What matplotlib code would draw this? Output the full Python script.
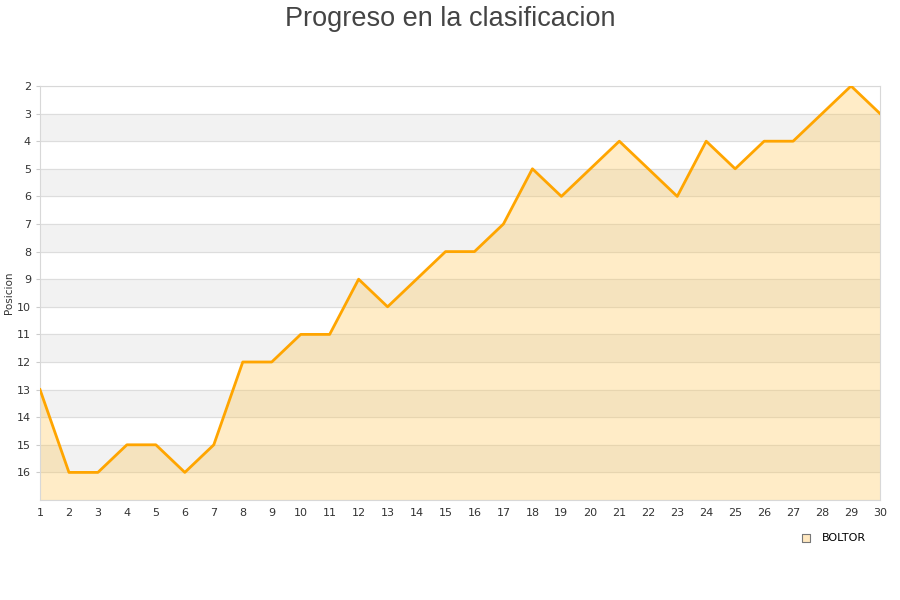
import numpy as np
import matplotlib
matplotlib.use("Agg")
import matplotlib.pyplot as plt

jornadas = list(range(1, 31))
posiciones = [13, 16, 16, 15, 15, 16, 15, 12, 12, 11, 11, 9, 10, 9, 8,
              8, 7, 5, 6, 5, 4, 5, 6, 4, 5, 4, 4, 3, 2, 3]
equipo = "BOLTOR"
y_ticks = list(range(2, 17))

fig = plt.figure(figsize=(9, 6), dpi=100)
ax = fig.add_axes([40 / 900, 1 - 500 / 600, 840 / 900, 414 / 600])

# alternate grey bands
for lo in range(3, 17, 2):
    ax.axhspan(lo, lo + 1, color="#f2f2f2", zorder=0)
for y in range(2, 18):
    ax.axhline(y, color="#dddddd", linewidth=0.8, zorder=1)

ax.fill_between(jornadas, posiciones, 17, color="#ffc348", alpha=0.3,
                linewidth=0, zorder=2)
ax.plot(jornadas, posiciones, color="#ffa500", linewidth=2.0, zorder=3)

ax.set_xlim(1, 30)
ax.set_ylim(17, 2)
ax.set_xticks(jornadas)
ax.set_yticks(y_ticks)
ax.tick_params(axis="both", labelsize=8, colors="#333333", length=3,
               color="#cccccc")
ax.tick_params(axis="x", length=0, pad=6)
for s in ax.spines.values():
    s.set_color("#d8d8d8")
    s.set_linewidth(0.8)

ax.set_ylabel("Posicion", fontsize=7.5, color="#333333", labelpad=2)
fig.text(0.5, 0.99, "Progreso en la clasificacion", ha="center", va="top",
         fontsize=19.5, color="#444444", family="Liberation Sans")

ax.scatter([], [], marker="s", s=40, facecolor="#ffe8c0",
           edgecolor="#777777", linewidth=0.8, label=equipo)
ax.legend(loc="upper right", bbox_to_anchor=(0.995, -0.055), frameon=False,
          fontsize=8, handletextpad=0.4, markerscale=1)

fig.savefig("out.png", dpi=100)
